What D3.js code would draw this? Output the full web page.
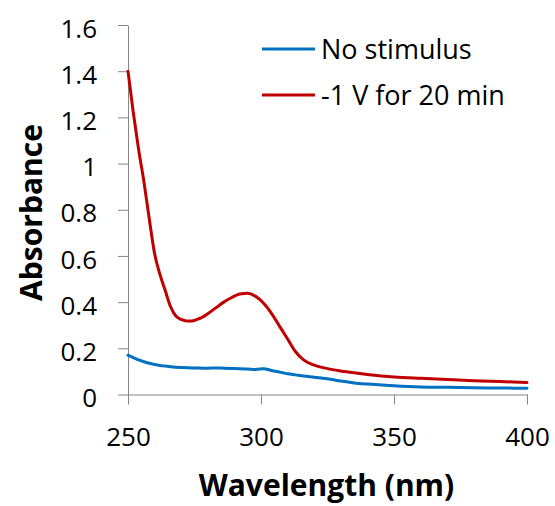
<!DOCTYPE html>
<html>
<head>
<meta charset="utf-8">
<script src="https://cdn.jsdelivr.net/npm/d3@7"></script>
<style>
  html, body { margin: 0; padding: 0; background: #fff; }
  svg { display: block; }
  text { font-family: "Open Sans", Lato, sans-serif; fill: #000; }
</style>
</head>
<body>
<svg id="chart" width="555" height="506"></svg>
<script>
const wavelengths = [250,252,254,256,258,260,262,264,266,268,270,272,274,276,278,280,283,286,289,292,295,298,301,304,307,310,313,316,320,325,330,335,340,350,360,370,380,390,400];
const noStimulus = [0.170,0.160,0.150,0.142,0.135,0.130,0.126,0.123,0.120,0.118,0.117,0.116,0.115,0.115,0.114,0.114,0.115,0.114,0.113,0.112,0.110,0.108,0.112,0.104,0.097,0.090,0.085,0.080,0.075,0.068,0.058,0.050,0.045,0.038,0.033,0.031,0.029,0.028,0.027];
const minus1V = [1.40,1.22,1.06,0.92,0.76,0.61,0.52,0.45,0.38,0.34,0.325,0.318,0.318,0.325,0.335,0.350,0.375,0.400,0.420,0.435,0.438,0.425,0.395,0.350,0.295,0.240,0.185,0.150,0.127,0.112,0.102,0.094,0.087,0.076,0.070,0.065,0.060,0.056,0.052];
const seriesNames = ["No stimulus", "-1 V for 20 min"];
const seriesColors = ["#0070C0", "#C00000"];
const xTicks = [250, 300, 350, 400];
const yTicks = [0, 0.2, 0.4, 0.6, 0.8, 1, 1.2, 1.4, 1.6];
const xTitle = "Wavelength (nm)";
const yTitle = "Absorbance";

const svg = d3.select("#chart");
const mLeft = 128, mRight = 527, mTop = 25, mBottom = 394.5;
const x = d3.scaleLinear().domain([250, 400]).range([mLeft, mRight]);
const y = d3.scaleLinear().domain([0, 1.6]).range([mBottom, mTop]);
const axisColor = "#868686";
const fontFam = "'Open Sans', Lato, sans-serif";

// y axis
const gy = svg.append("g").attr("transform", `translate(${mLeft},0)`)
  .call(d3.axisLeft(y).tickValues(yTicks).tickSize(10).tickSizeOuter(0).tickFormat(d => String(d)).tickPadding(21));
gy.select(".domain").attr("stroke", axisColor);
gy.selectAll(".tick line").attr("stroke", axisColor);
gy.selectAll(".tick text").attr("font-size", 26).attr("font-family", fontFam).attr("fill", "#000").attr("dy", "0.47em");

// x axis
const gx = svg.append("g").attr("transform", `translate(0,${mBottom})`)
  .call(d3.axisBottom(x).tickValues(xTicks).tickSize(10).tickSizeOuter(0).tickPadding(23));
gx.select(".domain").attr("stroke", axisColor);
gx.selectAll(".tick line").attr("stroke", axisColor);
gx.selectAll(".tick text").attr("font-size", 26).attr("font-family", fontFam).attr("fill", "#000");

// lines
const series = [noStimulus, minus1V];
const line = d3.line().x((d, i) => x(wavelengths[i])).y(d => y(d)).curve(d3.curveMonotoneX);
series.forEach((vals, k) => {
  svg.append("path").datum(vals).attr("d", line)
    .attr("fill", "none").attr("stroke", seriesColors[k]).attr("stroke-width", 3)
    .attr("stroke-linejoin", "round").attr("stroke-linecap", "round");
});

// legend
const legendY = [49, 95];
seriesNames.forEach((name, k) => {
  svg.append("line").attr("x1", 262).attr("x2", 315).attr("y1", legendY[k]).attr("y2", legendY[k])
    .attr("stroke", seriesColors[k]).attr("stroke-width", 3);
  svg.append("text").attr("x", 321).attr("y", legendY[k]).attr("dy", "0.36em")
    .attr("font-size", 27).text(name);
});

// titles
svg.append("text").attr("x", 326.5).attr("y", 496).attr("text-anchor", "middle")
  .attr("font-size", 30).attr("font-weight", "bold").text(xTitle);
svg.append("text").attr("transform", "translate(42,212.5) rotate(-90)").attr("text-anchor", "middle")
  .attr("font-size", 30).attr("font-weight", "bold").text(yTitle);
</script>
</body>
</html>
